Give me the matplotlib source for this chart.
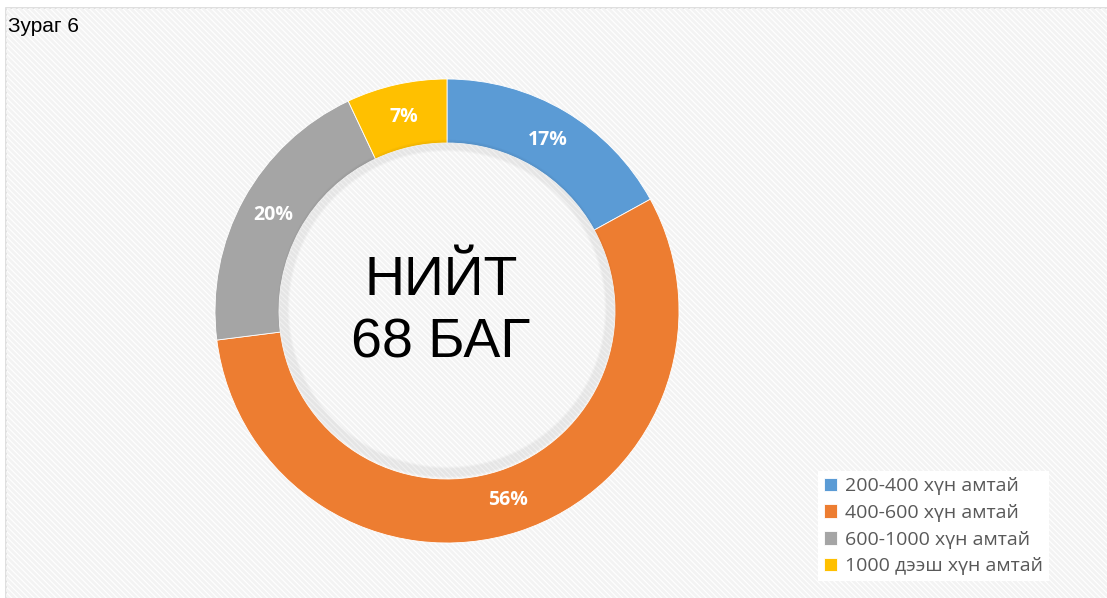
import numpy as np
import matplotlib.pyplot as plt
from matplotlib.patches import Rectangle, Circle

# chart values
labels = ["200-400 хүн амтай", "400-600 хүн амтай", "600-1000 хүн амтай", "1000 дээш хүн амтай"]
shares = [17, 56, 20, 7]
colors = ["#5b9bd5", "#ed7d31", "#a5a5a5", "#ffc000"]
title = "Зураг 6"
center_text = "НИЙТ\n68 БАГ"

W, H = 1107, 598
plt.rcParams["hatch.linewidth"] = 2.0

fig = plt.figure(figsize=(W / 100, H / 100), dpi=100)
ax = fig.add_axes([0, 0, 1, 1])

# chart area with faint diagonal pattern
ax.add_patch(Rectangle((6, -5), W, H - 3, facecolor="white",
                       edgecolor="#d9d9d9", linewidth=1.2, zorder=0))
ax.add_patch(Rectangle((6, -5), W, H - 3, facecolor="none", hatch="\\\\\\\\\\\\",
                       edgecolor="#f3f3f3", linewidth=0, zorder=0.5))

cx, cy = 447, H - 311
r_out, width = 232, 64

wedges, _, autotexts = ax.pie(
    shares, colors=colors, radius=r_out, center=(cx, cy), startangle=90,
    counterclock=False, autopct="%d%%", pctdistance=0.855,
    wedgeprops=dict(width=width, edgecolor="white", linewidth=0.6),
    textprops=dict(color="white", fontsize=14, fontweight="bold", family="Open Sans"),
)

# soft inner shadow
r_in = r_out - width
for i in range(10):
    ax.add_patch(Circle((cx, cy + 2), r_in - i * 1.0, facecolor="none",
                        edgecolor="black", alpha=0.018, linewidth=2, zorder=3))

ax.text(cx - 6, cy - 1, center_text, ha="center", va="center", fontsize=40,
        family="Liberation Sans", linespacing=1.25, color="black", zorder=5)

ax.text(8, H - 26, title, ha="left", va="center", fontsize=15,
        family="Liberation Sans", color="black")

leg = ax.legend(wedges, labels, loc="lower left", bbox_to_anchor=(808 / W, 7 / H),
                frameon=True, handlelength=0.7, handleheight=0.7,
                handletextpad=0.4, labelspacing=0.45, borderpad=0.3,
                prop=dict(family="Open Sans", size=14))
leg.get_frame().set_facecolor("white")
leg.get_frame().set_edgecolor("none")
leg.get_frame().set_alpha(1)
leg.get_frame().set_boxstyle("square", pad=0)
for t in leg.get_texts():
    t.set_color("#595959")

ax.set_xlim(0, W)
ax.set_ylim(0, H)
ax.set_aspect("auto")
ax.axis("off")

fig.savefig("out.png", dpi=100)
